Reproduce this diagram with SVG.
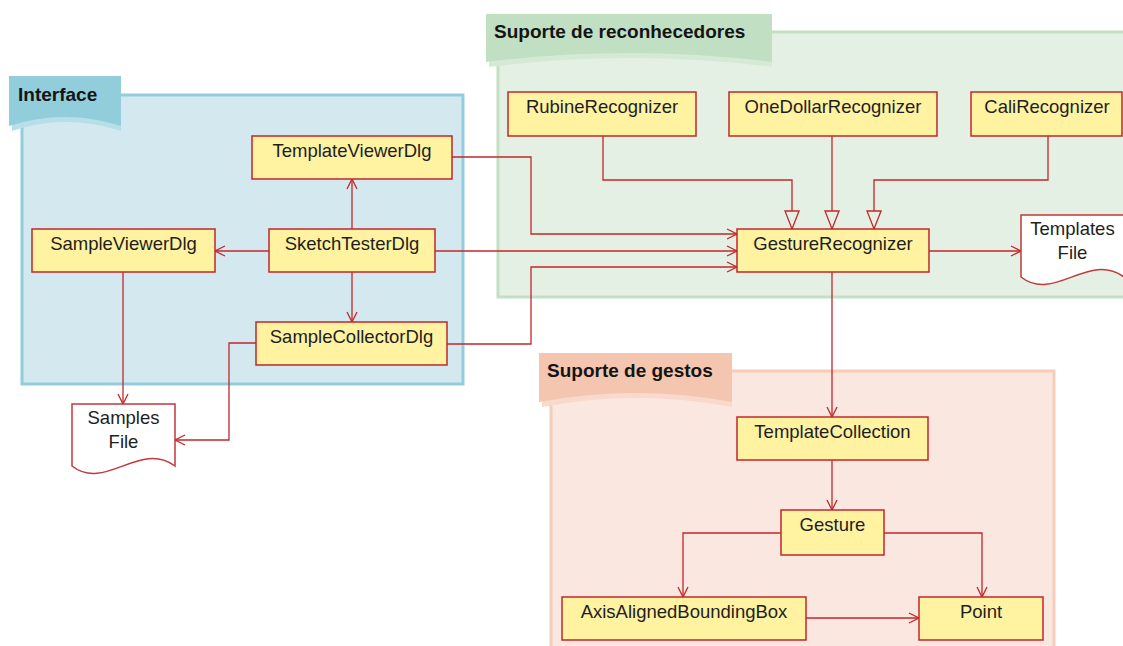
<svg xmlns="http://www.w3.org/2000/svg" width="1123" height="646" viewBox="0 0 1123 646">
<style>
.node rect{fill:#FFF2A1;stroke:#C1272D;stroke-width:1.5}
.node text,.doc text{font-family:"Liberation Sans",Arial,sans-serif;font-size:18.5px;fill:#1E1E1E;text-anchor:middle}
.doc path{fill:#FFFFFF;stroke:#C0393B;stroke-width:1.5}
.title{font-family:"Liberation Sans",Arial,sans-serif;font-size:19px;font-weight:bold;fill:#141414}
.conn path{fill:none;stroke:#C1272D;stroke-width:1.3}
.open{marker-end:url(#openArrow)}
.gen{marker-end:url(#genArrow)}
</style>
<defs>
<marker id="openArrow" markerUnits="userSpaceOnUse" markerWidth="12" markerHeight="12" refX="10" refY="5" orient="auto" viewBox="-1 -1 12 12">
<path d="M0,0 L10,5 L0,10" fill="none" stroke="#C1272D" stroke-width="1.3"/>
</marker>
<marker id="genArrow" markerUnits="userSpaceOnUse" markerWidth="21" markerHeight="16" refX="18" refY="7" orient="auto" viewBox="-1 -1 21 16">
<path d="M0,0 L18,7 L0,14 Z" fill="#E5F0E3" stroke="#C1272D" stroke-width="1.3"/>
</marker>
</defs>

<g id="group-interface">
<rect x="22" y="95" width="441" height="289" fill="#D3E9EF" stroke="#93CDDD" stroke-width="3"/>
<path d="M12,81 H121 V131 Q65,113 12,131 Z" fill="#B8DEE8"/>
<path d="M9,76 H121 V126 Q65,108 9,126 Z" fill="#92CDDC"/>
<text class="title" x="18" y="101">Interface</text>
</g>

<g id="group-reconhecedores">
<rect x="498" y="32" width="700" height="265" fill="#E4F0E3" stroke="#C4E0C4" stroke-width="3"/>
<path d="M489,19 H772 V67 Q629,49 489,67 Z" fill="#D5EAD5"/>
<path d="M486,14 H772 V62 Q629,44 486,62 Z" fill="#C1DFC3"/>
<text class="title" x="494" y="38">Suporte de reconhecedores</text>
</g>

<g id="group-gestos">
<rect x="551" y="371" width="503" height="300" fill="#FAE7E0" stroke="#F6CDBA" stroke-width="3"/>
<path d="M542,358 H732 V407 Q636,389 542,407 Z" fill="#F8D9CB"/>
<path d="M539,353 H732 V402 Q636,384 539,402 Z" fill="#F4C6AF"/>
<text class="title" x="547" y="377">Suporte de gestos</text>
</g>

<g id="connectors" class="conn">
<path class="open" d="M352,229 V179"/>
<path class="open" d="M269,251 H215"/>
<path class="open" d="M352,272 V322"/>
<path class="open" d="M123,272 V404"/>
<path class="open" d="M256,343 H229 V440 H175"/>
<path class="open" d="M452,157 H531 V234 H737"/>
<path class="open" d="M435,251 H737"/>
<path class="open" d="M447,344 H531 V267 H737"/>
<path class="gen" d="M603,136 V180 H792 V229"/>
<path class="gen" d="M832,136 V229"/>
<path class="gen" d="M1048,136 V180 H874 V229"/>
<path class="open" d="M929,251 H1021"/>
<path class="open" d="M832,272 V417"/>
<path class="open" d="M832,459 V510"/>
<path class="open" d="M781,533 H683 V597"/>
<path class="open" d="M884,533 H982 V597"/>
<path class="open" d="M806,618 H919"/>
</g>

<g id="TemplateViewerDlg" class="node"><rect x="252" y="136" width="200" height="43"/><text x="352" y="157">TemplateViewerDlg</text></g>
<g id="SampleViewerDlg" class="node"><rect x="32" y="229" width="183" height="43"/><text x="123.5" y="250">SampleViewerDlg</text></g>
<g id="SketchTesterDlg" class="node"><rect x="269" y="229" width="166" height="43"/><text x="352" y="250">SketchTesterDlg</text></g>
<g id="SampleCollectorDlg" class="node"><rect x="256" y="322" width="191" height="43"/><text x="351.5" y="343">SampleCollectorDlg</text></g>
<g id="SamplesFile" class="doc"><path d="M72,404 H175 V466 C140,440 105,492 72,466 Z"/><text x="123.5" y="424">Samples</text><text x="123.5" y="448">File</text></g>

<g id="RubineRecognizer" class="node"><rect x="508" y="92" width="188" height="44"/><text x="602" y="113">RubineRecognizer</text></g>
<g id="OneDollarRecognizer" class="node"><rect x="729" y="92" width="208" height="44"/><text x="833" y="113">OneDollarRecognizer</text></g>
<g id="CaliRecognizer" class="node"><rect x="971" y="92" width="151" height="44"/><text x="1047" y="113">CaliRecognizer</text></g>
<g id="GestureRecognizer" class="node"><rect x="737" y="229" width="192" height="43"/><text x="833" y="250">GestureRecognizer</text></g>
<g id="TemplatesFile" class="doc"><path d="M1021,215 H1124 V277 C1089,251 1054,303 1021,277 Z"/><text x="1072.5" y="235">Templates</text><text x="1072.5" y="259">File</text></g>

<g id="TemplateCollection" class="node"><rect x="737" y="417" width="191" height="43"/><text x="832.5" y="438">TemplateCollection</text></g>
<g id="Gesture" class="node"><rect x="781" y="510" width="103" height="45"/><text x="832.5" y="531">Gesture</text></g>
<g id="AxisAlignedBoundingBox" class="node"><rect x="562" y="597" width="244" height="43"/><text x="684" y="618">AxisAlignedBoundingBox</text></g>
<g id="Point" class="node"><rect x="919" y="597" width="124" height="43"/><text x="981" y="618">Point</text></g>
</svg>
